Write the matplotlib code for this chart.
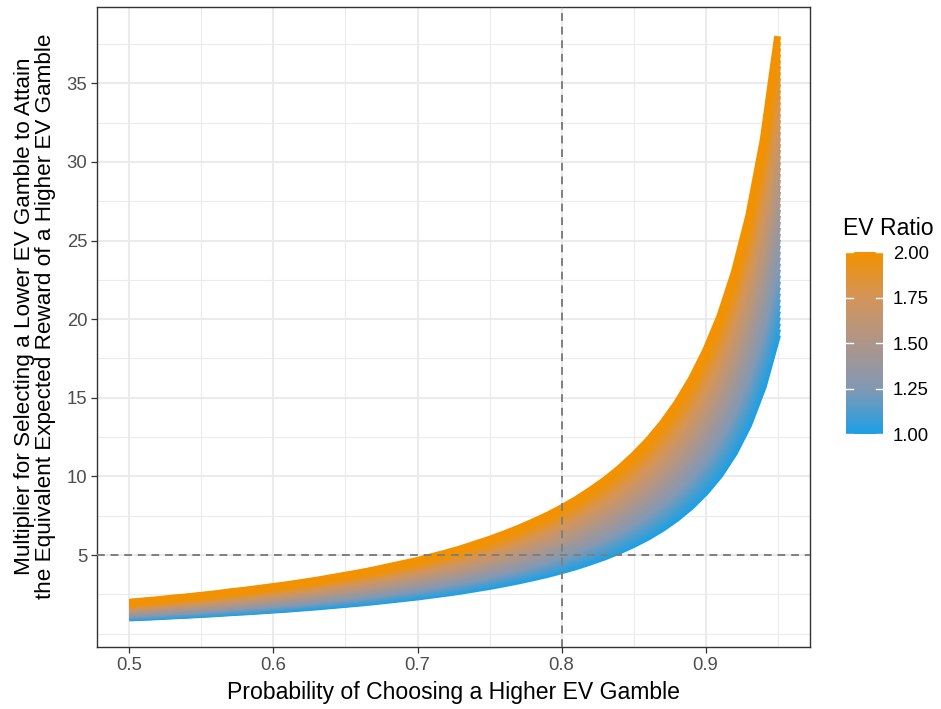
import numpy as np
import matplotlib
matplotlib.use("Agg")
import matplotlib.pyplot as plt
from matplotlib.collections import LineCollection
from matplotlib.colors import LinearSegmentedColormap, Normalize

plt.rcParams['font.family'] = ['Liberation Sans', 'DejaVu Sans']

# probability of choosing the higher EV gamble
prob = [0.50, 0.51, 0.52, 0.53, 0.54, 0.55, 0.56, 0.57, 0.58, 0.59,
        0.60, 0.61, 0.62, 0.63, 0.64, 0.65, 0.66, 0.67, 0.68, 0.69,
        0.70, 0.71, 0.72, 0.73, 0.74, 0.75, 0.76, 0.77, 0.78, 0.79,
        0.80, 0.81, 0.82, 0.83, 0.84, 0.85, 0.86, 0.87, 0.88, 0.89,
        0.90, 0.91, 0.92, 0.93, 0.94, 0.95]
mult_base = [1.00, 1.04, 1.08, 1.13, 1.17, 1.22, 1.27, 1.33, 1.38, 1.44,
             1.50, 1.56, 1.63, 1.70, 1.78, 1.86, 1.94, 2.03, 2.13, 2.23,
             2.33, 2.45, 2.57, 2.70, 2.85, 3.00, 3.17, 3.35, 3.55, 3.76,
             4.00, 4.26, 4.56, 4.88, 5.25, 5.67, 6.14, 6.69, 7.33, 8.09,
             9.00, 10.1, 11.5, 13.3, 15.7, 19.0]
# EV ratio levels (colour), each curve is the base curve scaled by its ratio
ev_ratio = np.linspace(1.0, 2.0, 51)

x_ticks = [0.5, 0.6, 0.7, 0.8, 0.9]
y_ticks = [5, 10, 15, 20, 25, 30, 35]
cbar_ticks = [1.00, 1.25, 1.50, 1.75, 2.00]

cmap = LinearSegmentedColormap.from_list(
    "ev", ["#1DA0E4", "#8399B4", "#AE968A", "#D3955A", "#F39200"])
norm = Normalize(1.0, 2.0)

fig = plt.figure(figsize=(9.41, 7.09), dpi=100)
ax = fig.add_axes([0.1031, 0.0874, 0.7577, 0.9027])

x = np.array(prob)
base = np.array(mult_base)
segs = [np.column_stack([x, r * base]) for r in ev_ratio]
lc = LineCollection(segs, colors=cmap(norm(ev_ratio)), linewidths=5,
                    capstyle='butt', joinstyle='round', zorder=3)
ax.add_collection(lc)

ax.axvline(0.8, color='#7f7f7f', ls=(0, (4, 3)), lw=1.4, zorder=4)
ax.axhline(5, color='#7f7f7f', ls=(0, (4, 3)), lw=1.4, zorder=4)

ax.set_xlim(0.4775, 0.9725)
ax.set_ylim(-0.85, 39.85)
ax.set_xticks(x_ticks)
ax.set_xticklabels(['0.5', '0.6', '0.7', '0.8', '0.9'])
ax.set_yticks(y_ticks)
ax.set_xticks([0.55, 0.65, 0.75, 0.85, 0.95], minor=True)
ax.set_yticks([0, 2.5, 7.5, 12.5, 17.5, 22.5, 27.5, 32.5, 37.5], minor=True)
ax.grid(True, which='major', color='#EBEBEB', lw=1.5, zorder=0)
ax.grid(True, which='minor', color='#EBEBEB', lw=0.8, zorder=0)
ax.set_axisbelow(True)
ax.tick_params(which='major', length=4, width=0.9, color='#333333',
               labelsize=13.3, labelcolor='#4D4D4D', pad=3)
ax.tick_params(which='minor', length=0)
for s in ax.spines.values():
    s.set_color('#333333')
    s.set_linewidth(1.0)

ax.set_xlabel('Probability of Choosing a Higher EV Gamble', fontsize=16.6, labelpad=5)
fig.text(35 / 941, 1 - 316 / 709,
         'Multiplier for Selecting a Lower EV Gamble to Attain\n'
         'the Equivalent Expected Reward of a Higher EV Gamble',
         fontsize=16.2, linespacing=0.98, rotation=90,
         ha='center', va='center', multialignment='center')

# colour bar legend
cax = fig.add_axes([846 / 941, 1 - 434 / 709, 37 / 941, 182 / 709])
grad = np.linspace(1.0, 2.0, 200).reshape(-1, 1)
cax.imshow(grad, aspect='auto', cmap=cmap, norm=norm, origin='lower',
           extent=[0, 1, 1.0, 2.0])
for t in cbar_ticks:
    cax.plot([0, 0.2], [t, t], color='white', lw=1.0)
    cax.plot([0.8, 1], [t, t], color='white', lw=1.0)
cax.set_xlim(0, 1)
cax.set_ylim(1.0, 2.0)
cax.set_xticks([])
cax.yaxis.tick_right()
cax.set_yticks(cbar_ticks)
cax.set_yticklabels(['%.2f' % t for t in cbar_ticks])
cax.tick_params(axis='y', length=0, labelsize=13.3, labelcolor='black', pad=7)
for s in cax.spines.values():
    s.set_visible(False)
fig.text(843 / 941, 1 - 229 / 709, 'EV Ratio', fontsize=16.6, va='center', ha='left')

fig.savefig('out.png', dpi=100)
